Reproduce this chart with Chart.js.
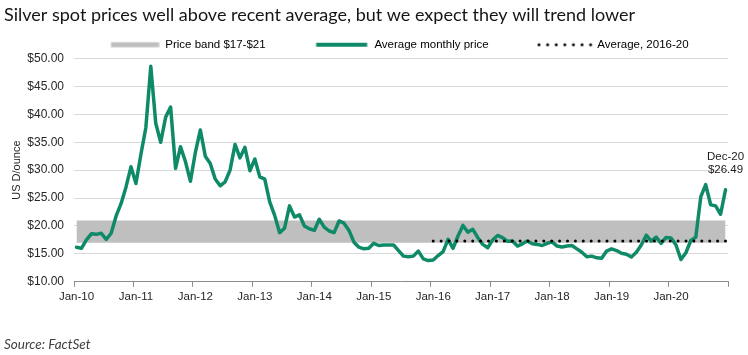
<!DOCTYPE html>
<html>
<head>
<meta charset="utf-8">
<script src="https://cdn.jsdelivr.net/npm/chart.js@4/dist/chart.umd.min.js"></script>
<style>
html,body{margin:0;padding:0;background:#fff;}
#wrap{position:relative;width:748px;height:355px;}
</style>
</head>
<body>
<div id="wrap"><canvas id="c"></canvas></div>
<script>
// ---- text ----
const titleText = 'Silver spot prices well above recent average, but we expect they will trend lower';
const sourceText = 'Source: FactSet';
const yAxisTitle = 'US D/ounce';
const seriesNames = ['Price band $17-$21', 'Average monthly price', 'Average, 2016-20'];

// ---- categories ----
const years = ['10','11','12','13','14','15','16','17','18','19','20'];
const monthNames = ['Jan','Feb','Mar','Apr','May','Jun','Jul','Aug','Sep','Oct','Nov','Dec'];
const xTickLabels = ['Jan-10','Jan-11','Jan-12','Jan-13','Jan-14','Jan-15','Jan-16','Jan-17','Jan-18','Jan-19','Jan-20'];
const yTickLabels = ['$10.00','$15.00','$20.00','$25.00','$30.00','$35.00','$40.00','$45.00','$50.00'];

// ---- silver price, US$/oz, monthly ----
const p2010 = [16.2, 16.0, 17.5, 18.6, 18.5, 18.7, 17.6, 18.7, 21.8, 24.0, 27.0, 30.6];
const p2011 = [27.6, 32.8, 37.6, 48.6, 38.4, 35.0, 39.5, 41.3, 30.3, 34.2, 31.5, 28.0];
const p2012 = [33.2, 37.2, 32.5, 31.2, 28.4, 27.2, 27.9, 30.0, 34.6, 32.2, 34.1, 29.9];
const p2013 = [32.0, 28.8, 28.4, 24.3, 21.9, 18.8, 19.6, 23.6, 21.6, 22.0, 20.0, 19.5];
const p2014 = [19.2, 21.2, 19.8, 19.1, 18.8, 20.9, 20.5, 19.2, 17.1, 16.2, 15.9, 16.0];
const p2015 = [16.9, 16.5, 16.6, 16.6, 16.6, 15.6, 14.6, 14.5, 14.6, 15.5, 14.1, 13.8];
const p2016 = [13.9, 14.7, 15.4, 17.6, 16.0, 18.2, 20.1, 18.9, 19.4, 17.9, 16.7, 16.1];
const p2017 = [17.5, 18.3, 17.9, 17.25, 17.3, 16.4, 16.8, 17.3, 16.8, 16.7, 16.5, 16.9];
const p2018 = [17.15, 16.4, 16.25, 16.4, 16.5, 15.9, 15.3, 14.5, 14.6, 14.3, 14.2, 15.5];
const p2019 = [15.9, 15.6, 15.1, 14.95, 14.45, 15.3, 16.6, 18.35, 17.3, 18.0, 16.9, 17.95];
const p2020 = [17.85, 16.6, 14.0, 15.2, 17.4, 18.0, 25.2, 27.4, 23.8, 23.6, 22.1, 26.49];

const bandLow = 17;
const bandHigh = 21;
const average2016to20 = 17.32;
const averageFrom = 'Jan-16';

// ---- build ----
const months = years.flatMap(y => monthNames.map(m => m + '-' + y));
const prices = [].concat(p2010, p2011, p2012, p2013, p2014, p2015, p2016, p2017, p2018, p2019, p2020);
const slot = i => i + 0.5;               // centre of month slot on the x axis
const priceData = prices.map((v, i) => ({x: slot(i), y: v}));
const bandHighData = months.map((m, i) => ({x: slot(i), y: bandHigh}));
const bandLowData = months.map((m, i) => ({x: slot(i), y: bandLow}));
const avgStart = months.indexOf(averageFrom);
const avgData = months.slice(avgStart).map((m, k) => ({x: slot(avgStart + k), y: average2016to20}));

const GREEN = '#0f8a68';
const BAND = '#bfbfbf';
const TXT = '#262626';
const FAM = 'Arial, "Liberation Sans", sans-serif';

function marker(kind) {
  const W = 97, H = 8;
  const c = document.createElement('canvas');
  c.height = H;
  if (kind === 'dots') {
    c.width = W + 8;
    const g = c.getContext('2d');
    g.fillStyle = '#000';
    for (let k = 0; k < 7; k++) { g.beginPath(); g.arc(W + 3 - k * 8.6, 4, 1.5, 0, Math.PI * 2); g.fill(); }
    return c;
  }
  c.width = W;
  const g = c.getContext('2d');
  if (kind === 'band') {
    g.fillStyle = BAND; g.fillRect(W - 48.5, 1.5, 48, 5);
  } else {
    g.fillStyle = GREEN; g.fillRect(W - 52.5, 2, 51, 4);
  }
  return c;
}

const legendPlacement = {
  id: 'legendPlacement',
  afterLayout(chart) {
    const lg = chart.legend;
    if (!lg) return;
    lg.left = chart.chartArea.left - 17.5;
    lg.top += 2;
  }
};

const endLabel = {
  id: 'endLabel',
  afterDatasetsDraw(chart) {
    const meta = chart.getDatasetMeta(2);
    const last = meta.data.length - 1;
    const pt = meta.data[last];
    const ctx = chart.ctx;
    ctx.save();
    ctx.font = '11.5px ' + FAM;
    ctx.fillStyle = '#1a1a1a';
    ctx.textAlign = 'center';
    ctx.textBaseline = 'middle';
    ctx.fillText(months[last], pt.x, pt.y - 32.5);
    ctx.fillText('$' + prices[last].toFixed(2), pt.x, pt.y - 20);
    ctx.restore();
  }
};

new Chart(document.getElementById('c'), {
  type: 'line',
  data: {
    datasets: [
      {label: seriesNames[0], data: bandHighData, fill: '+1', backgroundColor: BAND,
       borderColor: 'rgba(0,0,0,0)', borderWidth: 1, pointRadius: 0, order: 3},
      {label: 'band-low', data: bandLowData, fill: false,
       borderColor: 'rgba(0,0,0,0)', borderWidth: 1, pointRadius: 0, order: 4},
      {label: seriesNames[1], data: priceData, fill: false, borderColor: GREEN, borderWidth: 3.5,
       pointRadius: 0, tension: 0, borderJoinStyle: 'round', borderCapStyle: 'round', order: 1},
      {label: seriesNames[2], data: avgData, fill: false, borderColor: '#000', borderWidth: 3,
       borderDash: [0, 7.9], borderCapStyle: 'round', pointRadius: 0, order: 0}
    ]
  },
  options: {
    responsive: true,
    maintainAspectRatio: false,
    animation: false,
    events: [],
    layout: {padding: {top: 2, left: 4, right: 20, bottom: 2}},
    scales: {
      x: {
        type: 'linear', min: 0, max: 132,
        grid: {display: true, drawOnChartArea: false, drawTicks: true, tickLength: 5, color: '#8c8c8c'},
        border: {display: true, color: '#8c8c8c', width: 1},
        ticks: {
          stepSize: 12, maxTicksLimit: 20, autoSkip: false, maxRotation: 0, minRotation: 0,
          padding: 3, labelOffset: 2.5, color: TXT, font: {family: FAM, size: 11.5},
          callback: v => xTickLabels[v / 12] ?? ''
        },
        afterFit: s => { s.height = 22; }
      },
      y: {
        min: 10, max: 50,
        grid: {color: '#d9d9d9', drawTicks: false, lineWidth: 1},
        border: {display: false},
        ticks: {
          stepSize: 5, maxTicksLimit: 20, padding: 10, color: TXT, font: {family: FAM, size: 12},
          callback: v => yTickLabels[(v - 10) / 5]
        },
        title: {display: true, text: yAxisTitle, color: TXT, font: {family: FAM, size: 11},
                padding: {top: 6, bottom: 0}},
        afterFit: s => { s.width = 70; }
      }
    },
    plugins: {
      tooltip: {enabled: false},
      title: {
        display: true, text: titleText, align: 'start', color: '#151515',
        font: {family: 'Lato, "Open Sans", sans-serif', size: 18, weight: 'normal'},
        padding: {top: 2, bottom: 5.4}
      },
      subtitle: {
        display: true, text: sourceText, position: 'bottom', align: 'start', color: '#404040',
        font: {family: 'Lato, "Open Sans", sans-serif', size: 13.5, style: 'italic', weight: 'normal'},
        padding: {top: 33, bottom: 0}
      },
      legend: {
        display: true, position: 'top', align: 'start',
        labels: {
          usePointStyle: true, pointStyleWidth: 97, padding: 6, color: TXT,
          font: {family: FAM, size: 11.5},
          generateLabels: () => [
            {text: seriesNames[0], pointStyle: marker('band'), datasetIndex: 0, hidden: false,
             fillStyle: BAND, strokeStyle: BAND, lineWidth: 0},
            {text: seriesNames[1], pointStyle: marker('line'), datasetIndex: 2, hidden: false,
             fillStyle: GREEN, strokeStyle: GREEN, lineWidth: 0},
            {text: seriesNames[2], pointStyle: marker('dots'), datasetIndex: 3, hidden: false,
             fillStyle: '#000', strokeStyle: '#000', lineWidth: 0}
          ]
        }
      }
    }
  },
  plugins: [legendPlacement, endLabel]
});
</script>
</body>
</html>
